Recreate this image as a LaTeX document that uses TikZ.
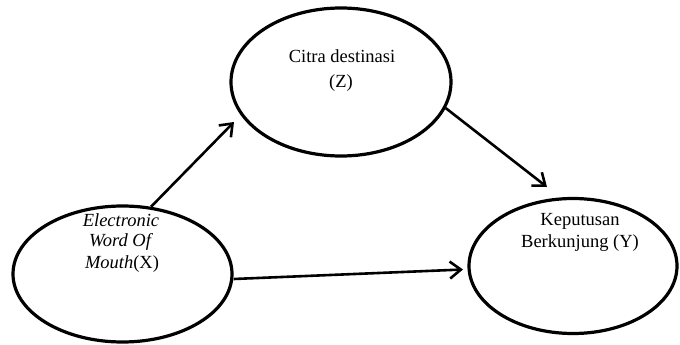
\documentclass[tikz,border=0pt]{standalone}
\usepackage{fontspec}
\setmainfont{Liberation Serif}
\usetikzlibrary{shapes.geometric,arrows.meta}
\begin{document}
\begin{tikzpicture}[x=1pt,y=-1pt,
  oval/.style={draw,line width=3.2pt,ellipse,inner sep=0pt},
  lbl/.style={anchor=base,inner sep=0pt,font=\fontsize{18.5}{20}\selectfont},
  arr/.style={line width=2.6pt,-{Straight Barb[length=11pt,width=17pt,line width=2.6pt]}}]
\useasboundingbox (0,0) rectangle (680,345);
\node[oval,minimum width=219pt,minimum height=136pt] (X) at (122.5,274) {};
\node[oval,minimum width=220pt,minimum height=148pt] (Z) at (341,82) {};
\node[oval,minimum width=208pt,minimum height=135pt] (Y) at (573,266) {};
% labels
\node[lbl] (x1) at (121,226) {\itshape Electronic};
\node[lbl] (x2) at (120,246) {\itshape Word Of};
\node[lbl] (x3) at (122,268) {\itshape Mouth\upshape(X)};
\node[lbl] (z1) at (342,63) {Citra destinasi};
\node[lbl] (z2) at (341,88) {(Z)};
\node[lbl] (y1) at (580,225) {Keputusan};
\node[lbl] (y2) at (580,247) {Berkunjung (Y)};
% connectors
\coordinate (tz) at (234,122);
\coordinate (ty) at (547,187);
\coordinate (tyy) at (463,269.5);
\draw[arr] (X.67) -- (tz);
\draw[arr] (Z.-14) -- (ty);
\draw[arr] (X.east) ++(0,5) -- (tyy);
\end{tikzpicture}
\end{document}
